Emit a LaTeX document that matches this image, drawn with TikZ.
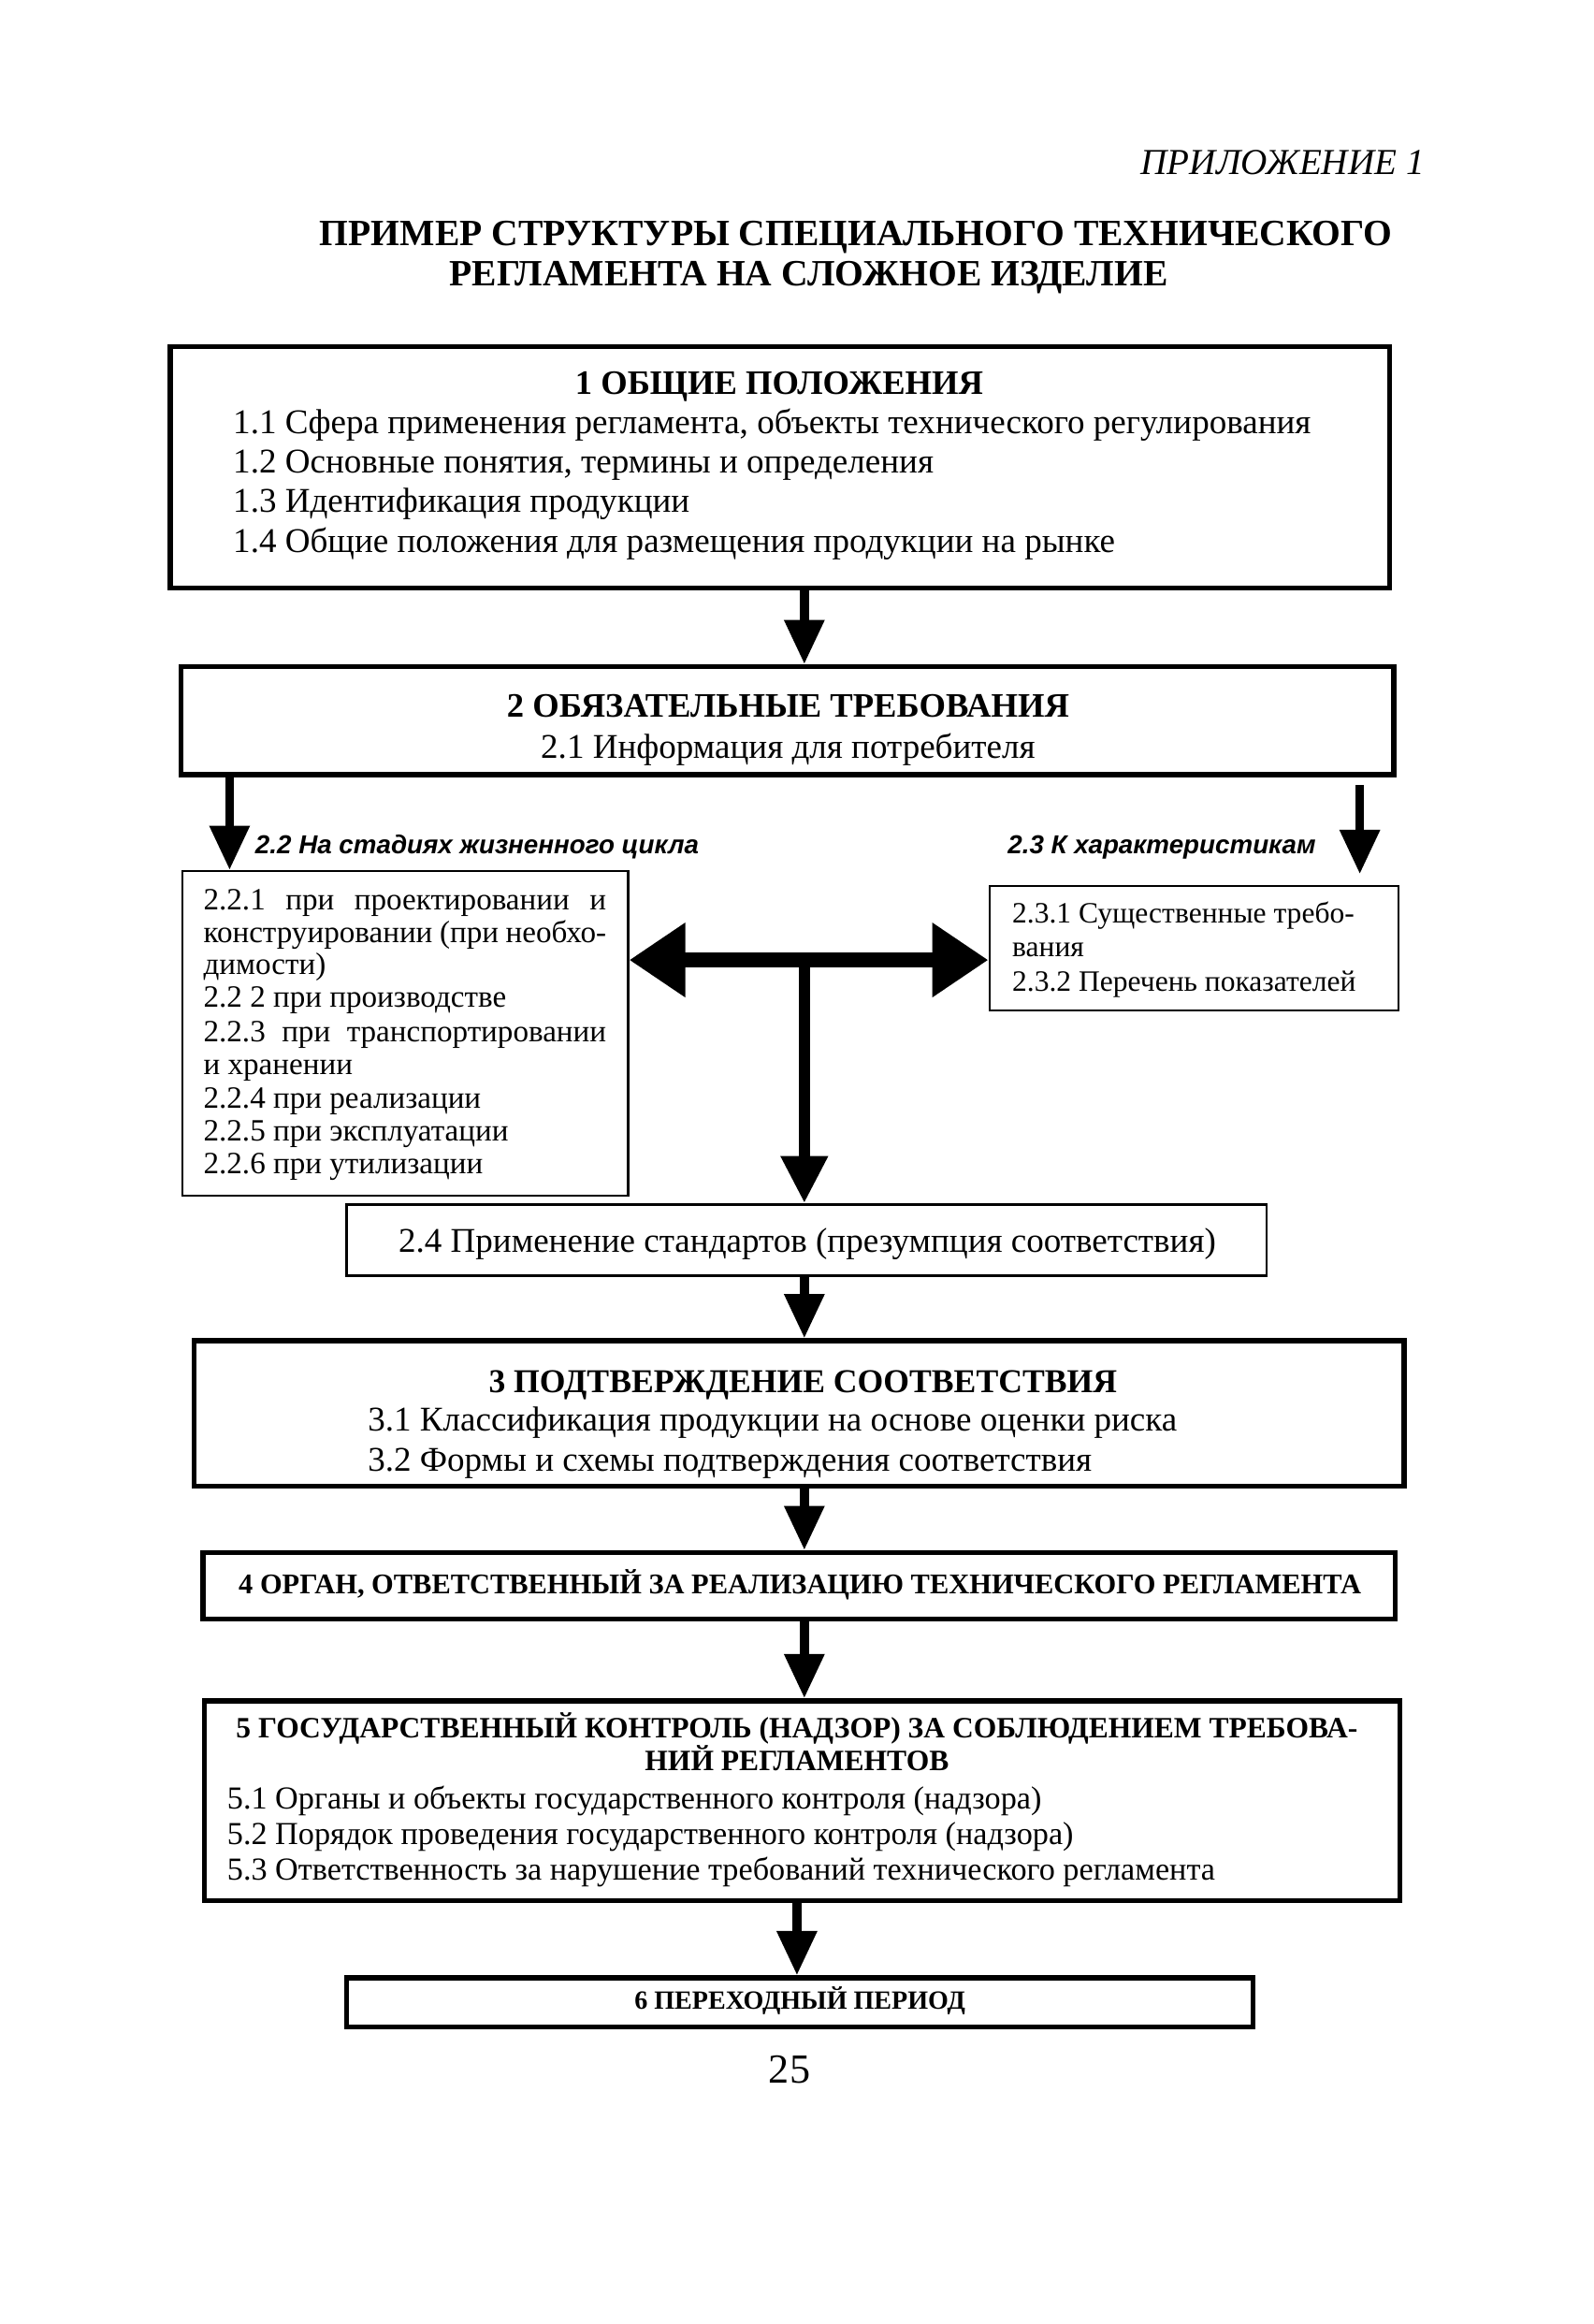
\documentclass[tikz,border=0pt]{standalone}
\usepackage{fontspec}
\setmainfont{Liberation Serif}
\newfontfamily\lsans{Liberation Sans}
\usetikzlibrary{arrows.meta,fit}
\tikzset{
  thickbox/.style={draw, line width=1.7pt, inner sep=0pt},
  thinbox/.style={draw, line width=0.8pt, inner sep=0pt},
  tl/.style={inner sep=0pt, anchor=base west},
  tc/.style={inner sep=0pt, anchor=base},
  fa/.style={inner sep=0pt, font=\fontsize{11.75}{14}\selectfont},
  fb/.style={inner sep=0pt, font=\fontsize{10.5}{12}\selectfont},
  fc/.style={inner sep=0pt, font=\fontsize{10}{12}\selectfont},
  fd/.style={inner sep=0pt, font=\fontsize{10.85}{13}\selectfont},
  fh/.style={inner sep=0pt, font=\fontsize{11.6}{14}\selectfont\bfseries},
  fs/.style={inner sep=0pt, font=\fontsize{9.65}{11}\selectfont\bfseries},
  flab/.style={inner sep=0pt, font=\fontsize{8.8}{10}\lsans\bfseries\itshape},
  bigarrow/.style={line width=3pt, -{Triangle[length=15pt,width=13pt]}},
  dblarrow/.style={line width=5pt, {Triangle[length=19pt,width=24pt]}-{Triangle[length=19pt,width=24pt]}},
  tarrow/.style={line width=4pt, -{Triangle[length=16pt,width=15pt]}},
}
\begin{document}
\begin{tikzpicture}[x=0.502pt,y=-0.502pt]
\fill[white] (0,0) rectangle (1075.7,1568.7);
\useasboundingbox (0,0) rectangle (1075.7,1568.7);

% header
\node[inner sep=0pt, anchor=base east, font=\fontsize{12.4}{14}\selectfont\itshape] (app) at (962,118) {ПРИЛОЖЕНИЕ 1};
\node[inner sep=0pt, tc, font=\fontsize{12.55}{15}\selectfont\bfseries] (tit1) at (578,166) {ПРИМЕР СТРУКТУРЫ СПЕЦИАЛЬНОГО ТЕХНИЧЕСКОГО};
\node[inner sep=0pt, tc, font=\fontsize{12.55}{15}\selectfont\bfseries] (tit2) at (546,193) {РЕГЛАМЕНТА НА СЛОЖНОЕ ИЗДЕЛИЕ};

% boxes
\node[thickbox, fit={(115,234) (938,397)}] (b1) {};
\node[thickbox, fit={(122,450) (941,523)}] (b2) {};
\node[thinbox, fit={(123,588) (424,807)}] (b22) {};
\node[thinbox, fit={(668,598) (944,682)}] (b23) {};
\node[thinbox, fit={(234,813) (855,861)}] (b24) {};
\node[thickbox, fit={(131,905) (948,1003)}] (b3) {};
\node[thickbox, fit={(137,1048) (942,1093)}] (b4) {};
\node[thickbox, fit={(138,1148) (945,1283)}] (b5) {};
\node[thickbox, fit={(234,1335) (846,1368)}] (b6) {};

% box 1 text
\node[fh, tc] (b1h) at (526,266) {1 ОБЩИЕ ПОЛОЖЕНИЯ};
\node[fa, tl] (b1a) at (157,293) {1.1 Сфера применения регламента, объекты технического регулирования};
\node[fa, tl] (b1b) at (157,319) {1.2 Основные понятия, термины и определения};
\node[fa, tl] (b1c) at (157,346) {1.3 Идентификация продукции};
\node[fa, tl] (b1d) at (157,373) {1.4 Общие положения для размещения продукции на рынке};

% box 2 text
\node[fh, tc] (b2h) at (532,484) {2 ОБЯЗАТЕЛЬНЫЕ ТРЕБОВАНИЯ};
\node[fa, tc] (b2a) at (532,512) {2.1 Информация для потребителя};

% labels
\node[flab, tl] (l22) at (172,576) {2.2 На стадиях жизненного цикла};
\node[flab, tl] (l23) at (680,576) {2.3 К характеристикам};

% box 2.2 text
\node[fb, tl] (c1) at (137,614) {\makebox[136.5pt][s]{2.2.1 при проектировании и}};
\node[fb, tl] (c2) at (137,636) {\makebox[136.5pt][s]{конструировании (при необхо-}};
\node[fb, tl] (c3) at (137,658) {димости)};
\node[fb, tl] (c4) at (137,680) {2.2 2 при производстве};
\node[fb, tl] (c5) at (137,703) {\makebox[136.5pt][s]{2.2.3 при транспортировании}};
\node[fb, tl] (c6) at (137,725) {и хранении};
\node[fb, tl] (c7) at (137,748) {2.2.4 при реализации};
\node[fb, tl] (c8) at (137,770) {2.2.5 при эксплуатации};
\node[fb, tl] (c9) at (137,792) {2.2.6 при утилизации};

% box 2.3 text
\node[fc, tl] (d1) at (683,623) {2.3.1 Существенные требо-};
\node[fc, tl] (d2) at (683,646) {вания};
\node[fc, tl] (d3) at (683,669) {2.3.2 Перечень показателей};

% box 2.4
\node[fa, tc] (e1) at (545,845) {2.4 Применение стандартов (презумпция соответствия)};

% box 3
\node[inner sep=0pt, tc, font=\fontsize{11.3}{14}\selectfont\bfseries] (f0) at (542,940) {3 ПОДТВЕРЖДЕНИЕ СООТВЕТСТВИЯ};
\node[fa, tl] (f1) at (248,966) {3.1 Классификация продукции на основе оценки риска};
\node[fa, tl] (f2) at (248,993) {3.2 Формы и схемы подтверждения соответствия};

% box 4
\node[fs, tc] (g0) at (540,1076) {4 ОРГАН, ОТВЕТСТВЕННЫЙ ЗА РЕАЛИЗАЦИЮ ТЕХНИЧЕСКОГО РЕГЛАМЕНТА};

% box 5
\node[fs, tc, font=\fontsize{10}{12}\selectfont\bfseries] (h0) at (538,1173) {5 ГОСУДАРСТВЕННЫЙ КОНТРОЛЬ (НАДЗОР) ЗА СОБЛЮДЕНИЕМ ТРЕБОВА-};
\node[fs, tc, font=\fontsize{10}{12}\selectfont\bfseries] (h1) at (538,1195) {НИЙ РЕГЛАМЕНТОВ};
\node[fd, tl] (h2) at (153,1221) {5.1 Органы и объекты государственного контроля (надзора)};
\node[fd, tl] (h3) at (153,1245) {5.2 Порядок проведения государственного контроля (надзора)};
\node[fd, tl] (h4) at (153,1269) {5.3 Ответственность за нарушение требований технического регламента};

% box 6
\node[fs, tc, font=\fontsize{8.9}{11}\selectfont\bfseries] (k0) at (540,1356) {6 ПЕРЕХОДНЫЙ ПЕРИОД};

% page number
\node[inner sep=0pt, tc, font=\fontsize{14}{16}\selectfont] (pg) at (533,1406) {25};

% connector coordinates
\coordinate (ax) at (543,0);
\coordinate (ax6) at (538,0);
\coordinate (lx) at (155,0);
\coordinate (rs) at (918,530);
\coordinate (re) at (918,590);
\coordinate (tj) at (543,648);

% connectors
\draw[bigarrow] (b1.south -| ax) -- (b2.north -| ax);
\draw[bigarrow] (b2.south -| lx) -- (b22.north -| lx);
\draw[bigarrow] (rs) -- (re);
\draw[dblarrow] (b22.east |- tj) -- (b23.west |- tj);
\draw[tarrow] (tj) -- (b24.north -| tj);
\draw[bigarrow] (b24.south -| ax) -- (b3.north -| ax);
\draw[bigarrow] (b3.south -| ax) -- (b4.north -| ax);
\draw[bigarrow] (b4.south -| ax) -- (b5.north -| ax);
\draw[bigarrow] (b5.south -| ax6) -- (b6.north -| ax6);
\end{tikzpicture}
\end{document}
